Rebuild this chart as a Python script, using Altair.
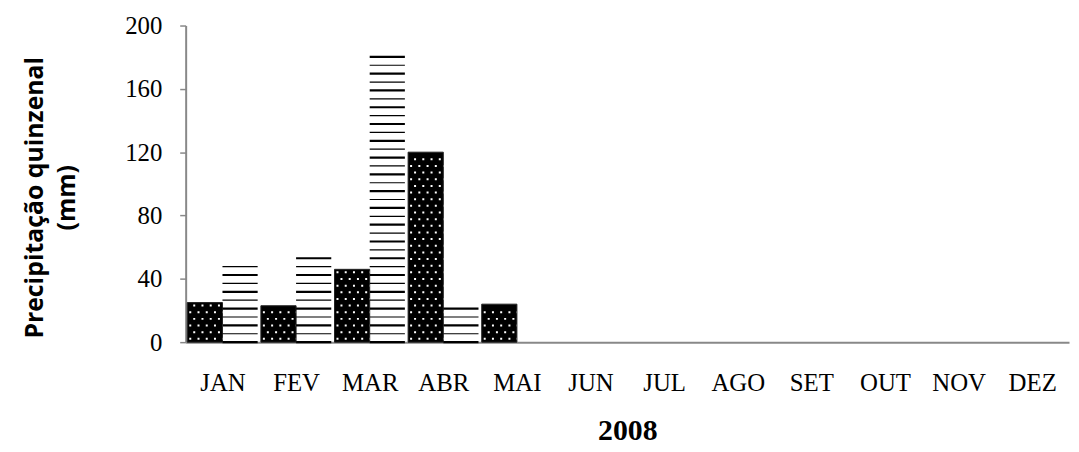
import altair as alt
import pandas as pd

months = ["JAN", "FEV", "MAR", "ABR", "MAI", "JUN", "JUL", "AGO", "SET", "OUT", "NOV", "DEZ"]
first_half = [25, 23, 46, 120, 24, None, None, None, None, None, None, None]
second_half = [49, 55, 182, 23, None, None, None, None, None, None, None, None]
y_ticks = [0, 40, 80, 120, 160, 200]
year_label = "2008"
y_title = ["Precipitação quinzenal", "(mm)"]

rows = []
for i, m in enumerate(months):
    for half, vals in ((1, first_half), (2, second_half)):
        v = vals[i]
        if v is not None:
            rows.append({"month": m, "idx": i, "half": half, "value": v})
df = pd.DataFrame(rows)

BAR_W = 0.478
LINE_STEP = 5.3
DOT_STEP = 4.2

month_js = "[" + ",".join(f"'{m}'" for m in months) + "]"

x_scale = alt.Scale(domain=[0, 12], nice=False, zero=False)
y_scale = alt.Scale(domain=[0, 200], nice=False)

x_axis = alt.Axis(
    values=[i + 0.5 for i in range(12)],
    labelExpr=f"{month_js}[floor(datum.value)]",
    ticks=False, grid=False,
    domainColor="#888888", domainWidth=2,
    labelFont="Liberation Serif", labelFontSize=25, labelColor="black",
    labelPadding=29, labelAngle=0,
    title=year_label, titleFont="Liberation Serif", titleFontSize=30,
    titleFontWeight="bold", titleColor="black",
    titleX=445, titleY=98, titleAlign="center", titleBaseline="alphabetic",
    titleAnchor="middle",
)
y_axis = alt.Axis(
    values=y_ticks, grid=False,
    domainColor="#888888", domainWidth=2,
    tickColor="#888888", tickSize=6, tickWidth=1.5,
    labelFont="Liberation Serif", labelFontSize=25, labelColor="black",
    labelPadding=18,
    title=y_title, titleFont="Open Sans", titleFontSize=25,
    titleFontWeight="bold", titleColor="black",
    titleAngle=270, titleX=-152, titleY=173, titleAlign="center",
    titleBaseline="middle", titleLineHeight=32,
)

base = alt.Chart(df).transform_calculate(
    x0=f"datum.idx + 0.5 - (datum.half == 1 ? {BAR_W} : 0)",
    x1=f"datum.idx + 0.5 + (datum.half == 2 ? {BAR_W} : 0)",
)

X = alt.X("x0:Q", scale=x_scale, axis=x_axis)
X2 = alt.X2("x1:Q")

bars1 = base.transform_filter("datum.half == 1").mark_bar(
    color="black", stroke="#222222", strokeWidth=1
).encode(
    x=X, x2=X2,
    y=alt.Y("value:Q", scale=y_scale, axis=y_axis),
    y2=alt.datum(0),
)

dots = base.transform_filter("datum.half == 1").transform_calculate(
    lev=f"sequence({DOT_STEP / 2}, datum.value - 1.5, {DOT_STEP})"
).transform_flatten(["lev"]).transform_calculate(
    row=f"round((datum.lev - {DOT_STEP / 2}) / {DOT_STEP})"
)

dots_even = dots.transform_filter("datum.row % 2 == 0").mark_rule(
    color="white", strokeWidth=2, strokeDash=[2, 6.3], strokeDashOffset=6.3
).encode(x=X, x2=X2, y=alt.Y("lev:Q", scale=y_scale, axis=y_axis))

dots_odd = dots.transform_filter("datum.row % 2 == 1").mark_rule(
    color="white", strokeWidth=2, strokeDash=[2, 6.3], strokeDashOffset=2.3
).encode(x=X, x2=X2, y=alt.Y("lev:Q", scale=y_scale, axis=y_axis))

lines2 = base.transform_filter("datum.half == 2").transform_calculate(
    lv=f"sequence(0, datum.value + 0.001, {LINE_STEP})"
).transform_flatten(["lv"]).transform_calculate(
    k=f"round(datum.lv / {LINE_STEP})",
    sw="datum.k % 2 == 0 ? 2.2 : 1.2",
).mark_rule(color="black").encode(
    x=X, x2=X2,
    y=alt.Y("lv:Q", scale=y_scale, axis=y_axis),
    strokeWidth=alt.StrokeWidth("sw:Q", scale=None, legend=None),
)

chart = alt.layer(bars1, dots_even, dots_odd, lines2).properties(
    width=890, height=319,
    autosize=alt.AutoSizeParams(type="none"),
    padding={"left": 179, "top": 16, "right": 2, "bottom": 108},
    background="white",
).configure_view(stroke=None)

chart.save("out.html", embed_options={"renderer": "svg", "actions": False})
